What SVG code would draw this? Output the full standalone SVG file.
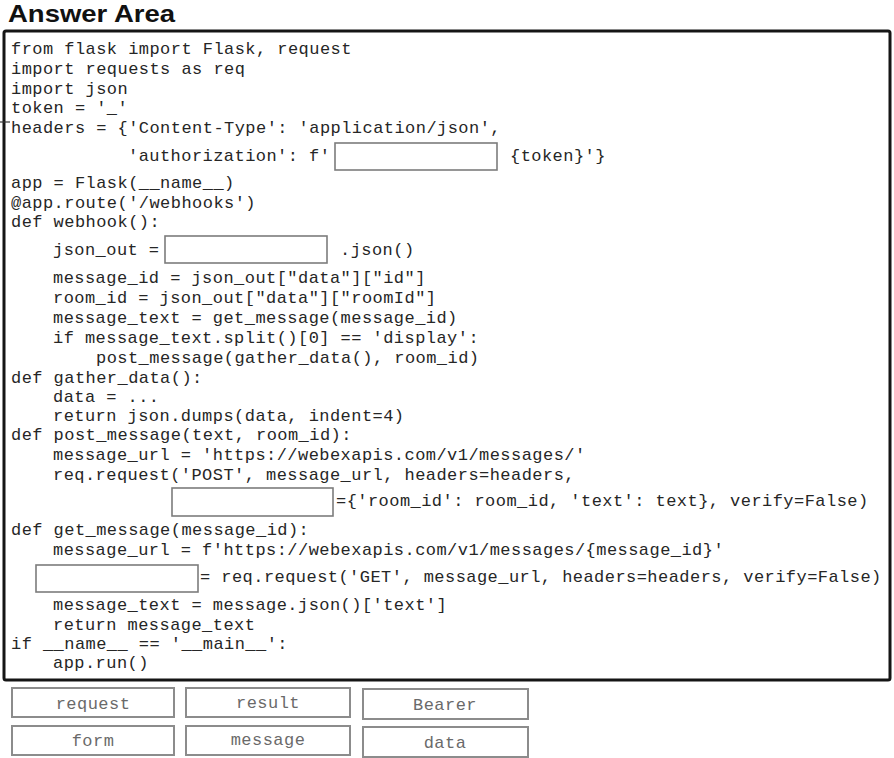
<svg xmlns="http://www.w3.org/2000/svg" width="894" height="758" viewBox="0 0 894 758">
<style>
  .c { font-family: "Liberation Mono", "DejaVu Sans Mono", monospace; font-size: 17px; letter-spacing: 0.45px; fill: #262626; }
  .o { font-family: "Liberation Mono", "DejaVu Sans Mono", monospace; font-size: 17px; letter-spacing: 0.45px; fill: #6a6a6a; text-anchor: middle; }
  .blank { fill: #ffffff; stroke: #7c7c7c; stroke-width: 1.6; }
  .opt { fill: #ffffff; stroke: #8c8c8c; stroke-width: 2; }
  .title { font-family: "Liberation Sans", Arial, sans-serif; font-size: 24px; font-weight: bold; fill: #111111; }
</style>
<rect x="0" y="0" width="894" height="758" fill="#ffffff"/>
<g id="title">
  <text class="title" x="8" y="22" textLength="167" lengthAdjust="spacingAndGlyphs">Answer Area</text>
</g>
<g id="answer-area">
  <rect x="4" y="31" width="886" height="649" rx="2" fill="#ffffff" stroke="#151515" stroke-width="3"/>
  <line x1="0" y1="122" x2="10" y2="122" stroke="#333333" stroke-width="1.2"/>
</g>
<g id="code">
  <text class="c" x="11" y="54">from flask import Flask, request</text>
  <text class="c" x="11" y="74">import requests as req</text>
  <text class="c" x="11" y="94">import json</text>
  <text class="c" x="11" y="113">token = '_'</text>
  <text class="c" x="11" y="133">headers = {'Content-Type': 'application/json',</text>
  <text class="c" x="128" y="161">'authorization': f'</text>
  <text class="c" x="510" y="161">{token}'}</text>
  <text class="c" x="11" y="188">app = Flask(__name__)</text>
  <text class="c" x="11" y="208">@app.route('/webhooks')</text>
  <text class="c" x="11" y="227">def webhook():</text>
  <text class="c" x="53" y="255">json_out =</text>
  <text class="c" x="340" y="255">.json()</text>
  <text class="c" x="53" y="283">message_id = json_out["data"]["id"]</text>
  <text class="c" x="53" y="303">room_id = json_out["data"]["roomId"]</text>
  <text class="c" x="53" y="323">message_text = get_message(message_id)</text>
  <text class="c" x="53" y="343">if message_text.split()[0] == 'display':</text>
  <text class="c" x="96" y="363">post_message(gather_data(), room_id)</text>
  <text class="c" x="11" y="383">def gather_data():</text>
  <text class="c" x="53" y="402">data = ...</text>
  <text class="c" x="53" y="421">return json.dumps(data, indent=4)</text>
  <text class="c" x="11" y="440">def post_message(text, room_id):</text>
  <text class="c" x="53" y="460">message_url = 'https://webexapis.com/v1/messages/'</text>
  <text class="c" x="53" y="480">req.request('POST', message_url, headers=headers,</text>
  <text class="c" x="336" y="506">={'room_id': room_id, 'text': text}, verify=False)</text>
  <text class="c" x="11" y="535">def get_message(message_id):</text>
  <text class="c" x="53" y="555">message_url = f'https://webexapis.com/v1/messages/{message_id}'</text>
  <text class="c" x="200" y="582">= req.request('GET', message_url, headers=headers, verify=False)</text>
  <text class="c" x="53" y="610">message_text = message.json()['text']</text>
  <text class="c" x="53" y="630">return message_text</text>
  <text class="c" x="11" y="649">if __name__ == '__main__':</text>
  <text class="c" x="53" y="668">app.run()</text>
</g>
<g id="blank-auth"><rect class="blank" x="335" y="143" width="162" height="27"/></g>
<g id="blank-json"><rect class="blank" x="165" y="236" width="162" height="27"/></g>
<g id="blank-post"><rect class="blank" x="172" y="488" width="161" height="28"/></g>
<g id="blank-get"><rect class="blank" x="36" y="565" width="162" height="27"/></g>
<g id="opt-request"><rect class="opt" x="12" y="688" width="162" height="29"/><text class="o" x="93" y="709">request</text></g>
<g id="opt-result"><rect class="opt" x="186" y="688" width="164" height="29"/><text class="o" x="268" y="708">result</text></g>
<g id="opt-bearer"><rect class="opt" x="363" y="689" width="165" height="30"/><text class="o" x="445" y="710">Bearer</text></g>
<g id="opt-form"><rect class="opt" x="12" y="726" width="162" height="29"/><text class="o" x="93" y="746">form</text></g>
<g id="opt-message"><rect class="opt" x="186" y="726" width="164" height="29"/><text class="o" x="268" y="745">message</text></g>
<g id="opt-data"><rect class="opt" x="363" y="727" width="165" height="30"/><text class="o" x="445" y="748">data</text></g>
<g id="connectors"/>
</svg>
